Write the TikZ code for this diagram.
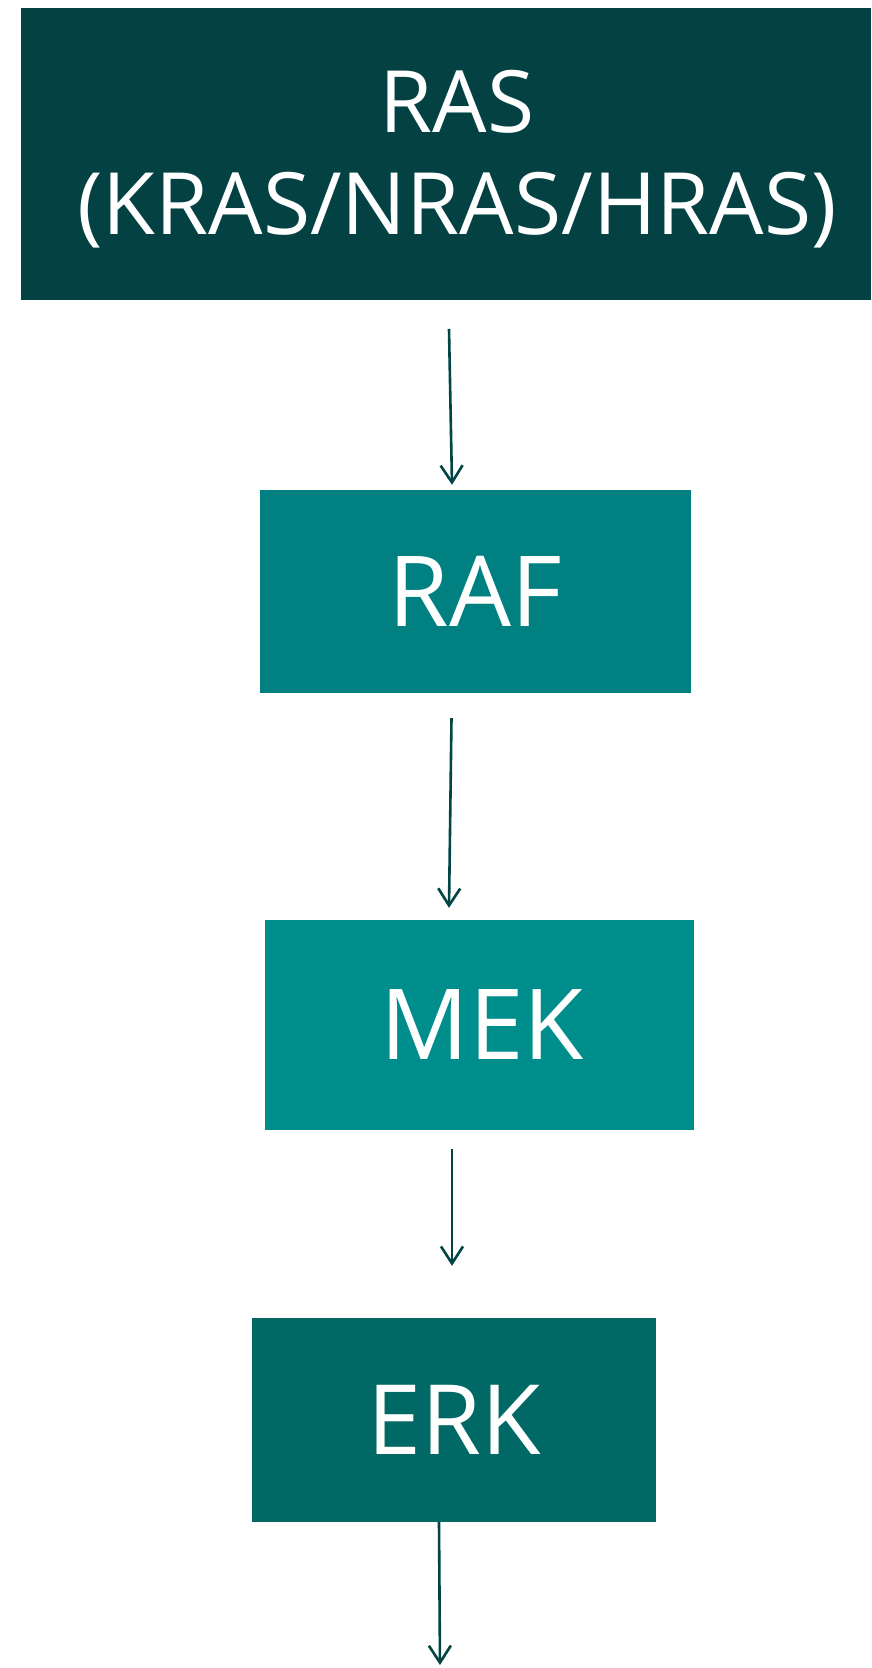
\documentclass[tikz,border=0pt]{standalone}
\usepackage{fontspec}
\setmainfont{Open Sans}
\usetikzlibrary{arrows.meta}
\definecolor{rascol}{RGB}{3,65,67}
\definecolor{rafcol}{RGB}{0,128,128}
\definecolor{mekcol}{RGB}{0,142,141}
\definecolor{erkcol}{RGB}{0,105,102}
\definecolor{arrcol}{RGB}{3,68,68}
\begin{document}
\begin{tikzpicture}[x=1pt,y=1pt,
  boxnode/.style={draw=none, inner sep=0pt, text=white, align=center},
  arr/.style={draw=arrcol, line width=2.6pt, -{Straight Barb[length=17pt,width=22pt]}}]
\useasboundingbox (0,0) rectangle (871,-1668);
\fill[white] (0,0) rectangle (871,-1668);
\node[boxnode, fill=rascol, minimum width=850pt, minimum height=291.5pt,
  font=\fontsize{86}{102}\selectfont] (ras) at (446,-154)
  {\hspace*{22pt}\rule{0pt}{72pt}RAS\\\hspace*{22pt}(KRAS/NRAS/HRAS)};
\node[boxnode, fill=rafcol, minimum width=431pt, minimum height=203pt,
  font=\fontsize{98}{110}\selectfont] (raf) at (475.5,-591.5) {RAF};
\node[boxnode, fill=mekcol, minimum width=429pt, minimum height=210pt,
  font=\fontsize{98}{110}\selectfont] (mek) at (479.5,-1025) {\hspace*{6pt}MEK};
\node[boxnode, fill=erkcol, minimum width=404pt, minimum height=204pt,
  font=\fontsize{97}{110}\selectfont] (erk) at (454,-1420) {ERK};
\coordinate (out) at (440,-1665);
\draw[arr] ([xshift=3pt,yshift=-29pt]ras.south) -- ([xshift=-23.5pt,yshift=5pt]raf.north);
\draw[arr] ([xshift=-24pt,yshift=-25pt]raf.south) -- ([xshift=-30.5pt,yshift=12pt]mek.north);
\draw[arr] ([xshift=-27.5pt,yshift=-19pt]mek.south) -- ([xshift=-2pt,yshift=52pt]erk.north);
\draw[arr] ([xshift=-15pt]erk.south) -- (out);
\end{tikzpicture}
\end{document}
